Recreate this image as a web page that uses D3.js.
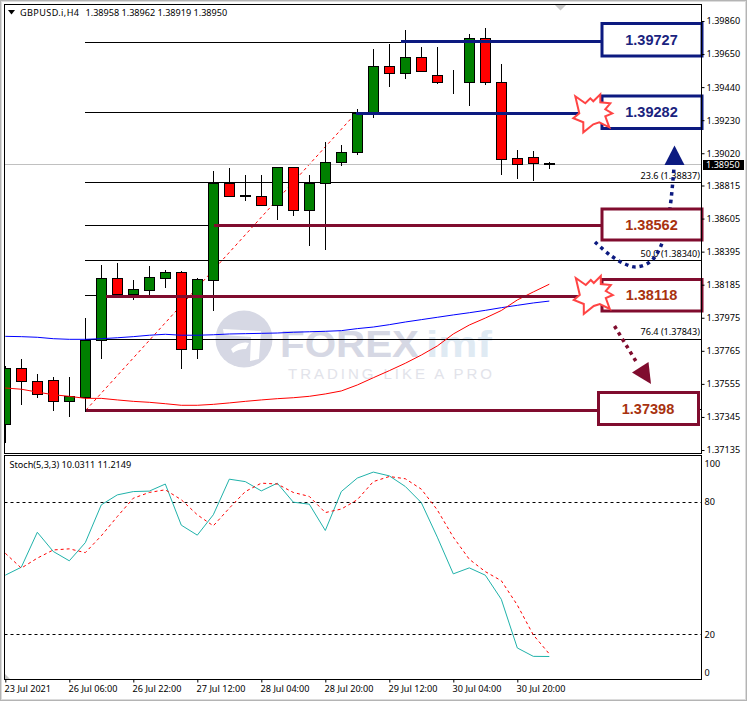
<!DOCTYPE html>
<html>
<head>
<meta charset="utf-8">
<style>
    html, body { margin: 0; padding: 0; background: #fff; }
    svg { display: block; }
    text { font-family: "Noto Sans", sans-serif; font-size: 9.1px; fill: #000; }
</style>
<script src="https://cdn.jsdelivr.net/npm/d3@7"></script>
</head>
<body>
<svg id="chart" width="749" height="702"></svg>
<script>
// GBPUSD H4 candles
var opens = [1.37298, 1.37654, 1.37571, 1.37578, 1.37442, 1.37474, 1.37832, 1.38226, 1.38122, 1.38147, 1.38229, 1.38264, 1.37775, 1.38217, 1.38833, 1.38752, 1.38746, 1.38687, 1.38931, 1.38661, 1.38829, 1.38962, 1.39024, 1.39274, 1.39572, 1.39528, 1.39629, 1.39515, 1.39471, 1.39471, 1.39750, 1.39471, 1.38988, 1.38994, 1.38958];
var highs = [1.37669, 1.37713, 1.37618, 1.37599, 1.37599, 1.37972, 1.38310, 1.38323, 1.38215, 1.38304, 1.38278, 1.38272, 1.38228, 1.38907, 1.38926, 1.38882, 1.38882, 1.38931, 1.38931, 1.38882, 1.39091, 1.39072, 1.39301, 1.39680, 1.39714, 1.39803, 1.39695, 1.39695, 1.39549, 1.39777, 1.39816, 1.39587, 1.39041, 1.39034, 1.38962];
var lows = [1.37181, 1.37421, 1.37467, 1.37383, 1.37347, 1.37378, 1.37713, 1.38122, 1.38088, 1.38118, 1.38166, 1.37650, 1.37713, 1.38020, 1.38744, 1.38719, 1.38687, 1.38596, 1.38623, 1.38433, 1.38407, 1.38941, 1.39009, 1.39246, 1.39443, 1.39492, 1.39541, 1.39462, 1.39398, 1.39320, 1.39454, 1.38884, 1.38856, 1.38846, 1.38919];
var closes = [1.37654, 1.37569, 1.37486, 1.37442, 1.37476, 1.37834, 1.38226, 1.38122, 1.38156, 1.38232, 1.38264, 1.37775, 1.38219, 1.38833, 1.38750, 1.38745, 1.38687, 1.38931, 1.38661, 1.38831, 1.38962, 1.39026, 1.39274, 1.39572, 1.39528, 1.39629, 1.39541, 1.39471, 1.39470, 1.39750, 1.39471, 1.38979, 1.38950, 1.38954, 1.38950];

// moving averages
var maBlue = [1.37857, 1.37855, 1.37851, 1.37842, 1.37838, 1.37838, 1.37842, 1.37848, 1.37855, 1.37864, 1.37870, 1.37864, 1.37864, 1.37867, 1.37872, 1.37874, 1.37876, 1.37878, 1.37883, 1.37886, 1.37889, 1.37893, 1.37906, 1.37916, 1.37931, 1.37948, 1.37963, 1.37978, 1.37993, 1.38007, 1.38022, 1.38039, 1.38054, 1.38069, 1.38081];
var maRed = [1.37529, 1.37521, 1.37503, 1.37486, 1.37476, 1.37463, 1.37463, 1.37453, 1.37444, 1.37438, 1.37429, 1.37419, 1.37419, 1.37425, 1.37434, 1.37444, 1.37453, 1.37461, 1.37467, 1.37476, 1.37491, 1.37510, 1.37548, 1.37594, 1.37639, 1.37686, 1.37738, 1.37796, 1.37872, 1.37929, 1.37973, 1.38021, 1.38088, 1.38139, 1.38188];

// stochastic
var stochMain = [46.8, 50.4, 66.2, 57.5, 53.3, 61.5, 78.6, 83.1, 84.6, 84.8, 88.0, 69.4, 64.9, 74.1, 90.2, 89.1, 84.9, 88.4, 79.8, 78.9, 67.0, 84.6, 90.7, 93.4, 91.7, 86.9, 79.6, 64.0, 47.4, 50.1, 46.8, 35.9, 13.9, 10.1, 10.03];
var stochSignal = [56.7, 50.0, 54.5, 58.2, 58.7, 57.0, 64.6, 73.3, 81.6, 84.2, 85.4, 80.9, 74.1, 69.1, 77.1, 84.6, 88.4, 88.0, 84.2, 82.4, 75.1, 76.7, 80.9, 89.1, 91.4, 90.4, 85.7, 76.3, 64.0, 54.0, 48.4, 44.3, 33.3, 19.8, 11.2];

// axes
var priceTicks = [1.39860, 1.39650, 1.39440, 1.39230, 1.39020, 1.38815, 1.38605, 1.38395, 1.38185, 1.37975, 1.37765, 1.37555, 1.37345, 1.37135];
var stochTicks = [100, 80, 20, 0];
var stochLevels = [80, 20];
var timeIndex = [0, 4, 8, 12, 16, 20, 24, 28, 32];
var timeLabels = ["23 Jul 2021", "26 Jul 06:00", "26 Jul 22:00", "27 Jul 12:00", "28 Jul 04:00", "28 Jul 20:00", "29 Jul 12:00", "30 Jul 04:00", "30 Jul 20:00"];

// fibonacci levels
var fibPrices = [1.39727, 1.39282, 1.38837, 1.38562, 1.38340, 1.38118, 1.37843, 1.37398];
var fibLabelled = [1.38837, 1.38340, 1.37843];
var fibNames = ["23.6", "50.0", "76.4"];

var lastPrice = 1.38950;

var svg = d3.select("#chart");

var panelLeft = 4.5, panelRight = 701.5, mainTop = 4.5, mainBottom = 453.5, stochTop = 455.5, stochBottom = 679.5;

var x = d3.scaleLinear().domain([0, 34]).range([5.3, 549.3]);
var y = d3.scaleLinear().domain([1.39860, 1.37135]).range([21, 450]);
var yStoch = d3.scaleLinear().domain([0, 100]).range([678.7, 457.5]);

var crisp = v => Math.round(v) + 0.5;

var navy = "#0c1a80", maroon = "#800c2e";

// window frame
svg.append("rect").attr("x", 0.5).attr("y", 0.5).attr("width", 746).attr("height", 700)
    .attr("fill", "#fff").attr("stroke", "#b4b4b4");
svg.append("rect").attr("x", 1.5).attr("y", 1.5).attr("width", 744).attr("height", 698)
    .attr("fill", "none").attr("stroke", "#dcdcdc");

svg.append("clipPath").attr("id", "main-clip").append("rect")
    .attr("x", panelLeft).attr("y", mainTop).attr("width", panelRight - panelLeft).attr("height", mainBottom - mainTop);

// watermark
var wm = svg.append("g");
wm.append("circle").attr("cx", 244).attr("cy", 339).attr("r", 28.5).attr("fill", "#d6d8e4");
wm.append("path").attr("d", "M223 329 L261 331 L259 359 L250 361 L251 337 L224 335 Z").attr("fill", "#fff");
wm.append("path").attr("d", "M231 349 Q240 341 249 343 L246 349 Q238 349 233 353 Z").attr("fill", "#fff");
wm.append("text").attr("x", 280).attr("y", 357).text("FOREX")
    .style("font-family", "Liberation Sans").style("font-weight", "bold").style("font-size", "37px").style("fill", "#d6d8e4")
    .attr("textLength", 139).attr("lengthAdjust", "spacingAndGlyphs");
wm.append("text").attr("x", 426).attr("y", 357).text("imf")
    .style("font-family", "Liberation Sans").style("font-weight", "bold").style("font-size", "37px").style("fill", "#dfeaf3")
    .attr("textLength", 66).attr("lengthAdjust", "spacingAndGlyphs");
wm.append("text").attr("x", 288).attr("y", 378.5).text("TRADING LIKE A PRO")
    .style("font-family", "Liberation Sans").style("font-size", "15px").style("fill", "#e2e3ea")
    .attr("textLength", 204);

// fibonacci trend line and levels
svg.append("line").attr("x1", 86).attr("y1", 410).attr("x2", 357).attr("y2", 112)
    .attr("stroke", "#f00").attr("stroke-dasharray", "3 3");
svg.selectAll(".fib").data(fibPrices).enter().append("line")
    .attr("class", "fib")
    .attr("x1", 85).attr("x2", panelRight)
    .attr("y1", d => crisp(y(d))).attr("y2", d => crisp(y(d)))
    .attr("stroke", "#000");
svg.selectAll(".fib-label").data(fibLabelled).enter().append("text")
    .attr("class", "fib-label")
    .attr("x", 700).attr("y", d => y(d) - 3.5)
    .attr("text-anchor", "end")
    .text((d, i) => fibNames[i] + " (" + d.toFixed(5) + ")");

// current price line
svg.append("line").attr("x1", panelLeft).attr("x2", panelRight)
    .attr("y1", crisp(y(lastPrice))).attr("y2", crisp(y(lastPrice)))
    .attr("stroke", "#c0c0c0");

// candles
var candles = svg.append("g").attr("clip-path", "url(#main-clip)")
    .selectAll("g").data(opens).enter().append("g");
candles.append("line")
    .attr("x1", (d, i) => Math.round(x(i)) + 0.5).attr("x2", (d, i) => Math.round(x(i)) + 0.5)
    .attr("y1", (d, i) => Math.round(y(highs[i]))).attr("y2", (d, i) => Math.round(y(lows[i])))
    .attr("stroke", "#000");
candles.append("rect")
    .attr("x", (d, i) => Math.round(x(i)) - 4.5)
    .attr("width", 10)
    .attr("y", (d, i) => crisp(y(Math.max(d, closes[i]))))
    .attr("height", (d, i) => Math.round(Math.abs(y(d) - y(closes[i]))))
    .attr("fill", (d, i) => closes[i] >= d ? "#008000" : "#f00")
    .attr("stroke", "#000");

// moving averages
var priceLine = d3.line().x((d, i) => x(i)).y(d => y(d));
svg.append("path").datum(maBlue).attr("d", priceLine).attr("fill", "none").attr("stroke", "#00f");
svg.append("path").datum(maRed).attr("d", priceLine).attr("fill", "none").attr("stroke", "#f00");

// dotted arrows go under the boxes
var dotted = d3.line().curve(d3.curveCatmullRom);
svg.append("path")
    .attr("d", dotted([[595, 242], [610, 255], [625, 264], [636, 267], [650, 262], [660, 248], [668, 220], [671, 200], [674, 168]]))
    .attr("fill", "none").attr("stroke", navy).attr("stroke-width", 3.5).attr("stroke-dasharray", "3.5 4");
svg.append("path").attr("d", "M674.5 145.5 L684.5 165 L664.5 165 Z").attr("fill", navy);
svg.append("path")
    .attr("d", dotted([[614.5, 326], [637, 363]]))
    .attr("fill", "none").attr("stroke", maroon).attr("stroke-width", 3.5).attr("stroke-dasharray", "3.5 4");
svg.append("path").attr("d", "M648.5 362 L632 372.5 L651 384 Z").attr("fill", maroon);

// thick support / resistance lines and their boxes
var zones = [
    { x1: 401, x2: 602, ly: 41.5, bx: 602, by: 23.5, bh: 32.5, c: navy, tc: "#1a237e", label: "1.39727" },
    { x1: 356, x2: 602, ly: 113.5, bx: 602, by: 96, bh: 32.5, c: navy, tc: "#1a237e", label: "1.39282" },
    { x1: 214, x2: 602, ly: 225.5, bx: 602, by: 209, bh: 31, c: maroon, tc: "#a8320f", label: "1.38562" },
    { x1: 106, x2: 602, ly: 296.5, bx: 602, by: 279.5, bh: 31.5, c: maroon, tc: "#a8320f", label: "1.38118" },
    { x1: 86, x2: 598, ly: 410.5, bx: 598.5, by: 392.5, bh: 32, c: maroon, tc: "#a8320f", label: "1.37398" }
];
var zone = svg.selectAll(".zone").data(zones).enter().append("g").attr("class", "zone");
zone.append("line")
    .attr("x1", d => d.x1).attr("x2", d => d.x2).attr("y1", d => d.ly).attr("y2", d => d.ly)
    .attr("stroke", d => d.c).attr("stroke-width", 3);
zone.append("rect")
    .attr("x", d => d.bx).attr("y", d => d.by).attr("width", 100).attr("height", d => d.bh)
    .attr("fill", "#fff").attr("stroke", d => d.c).attr("stroke-width", 3);
zone.append("text")
    .attr("x", d => d.bx + 49.5).attr("y", d => d.by + d.bh / 2 + 5)
    .attr("text-anchor", "middle")
    .style("font-family", "Liberation Sans").style("font-weight", "bold").style("font-size", "14.5px")
    .style("fill", d => d.tc)
    .text(d => d.label);

// breakout stars
var starShape = [[-18, -18], [-8, -11], [-3, -16], [0, -13], [7, -20], [7, -12], [17, -11], [12, -5], [19, -1], [12, 2], [16, 13], [6, 8], [0, 10], [-10, 18], [-10, 8], [-20, 4], [-14, -1]];
svg.selectAll(".star").data([[593.3, 114.3], [593.8, 296]]).enter().append("path")
    .attr("class", "star")
    .attr("transform", d => "translate(" + d[0] + "," + d[1] + ")")
    .attr("d", d3.line().curve(d3.curveLinearClosed)(starShape))
    .attr("fill", "#fff").attr("stroke", "#ff4444").attr("stroke-width", 2);

// main panel frame and price axis
svg.append("rect").attr("x", panelLeft).attr("y", mainTop).attr("width", panelRight - panelLeft).attr("height", mainBottom - mainTop)
    .attr("fill", "none").attr("stroke", "#000");
var priceAxis = svg.append("g")
    .attr("transform", "translate(" + panelRight + ",0)")
    .call(d3.axisRight(y).tickValues(priceTicks).tickSize(3).tickPadding(2).tickFormat(d => d.toFixed(5)));
priceAxis.select(".domain").remove();
priceAxis.selectAll("text").style("font-size", "9.1px");

// current price tag
svg.append("rect").attr("x", 703).attr("y", 160).attr("width", 41).attr("height", 10).attr("fill", "#000");
svg.append("text").attr("x", 706).attr("y", 168.3).style("fill", "#fff").text(lastPrice.toFixed(5));

// header
svg.append("path").attr("d", "M8 10 L15 10 L11.5 14.5 Z").attr("fill", "#000");
svg.append("text").attr("x", 20).attr("y", 16).attr("textLength", 59).text("GBPUSD.i,H4");
svg.append("text").attr("x", 85.5).attr("y", 16).text("1.38958 1.38962 1.38919 1.38950");
svg.append("path").attr("d", "M555 5 L566 5 L560.5 10.5 Z").attr("fill", "#c8c8c8");

// stochastic panel
svg.append("rect").attr("x", panelLeft).attr("y", stochTop).attr("width", panelRight - panelLeft).attr("height", stochBottom - stochTop)
    .attr("fill", "#fff").attr("stroke", "#000");
svg.selectAll(".level").data(stochLevels).enter().append("line")
    .attr("class", "level")
    .attr("x1", panelLeft).attr("x2", panelRight)
    .attr("y1", d => crisp(yStoch(d))).attr("y2", d => crisp(yStoch(d)))
    .attr("stroke", "#000").attr("stroke-dasharray", "3 3");

var stochLine = d3.line().x((d, i) => x(i)).y(d => yStoch(d));
svg.append("path").datum(stochMain).attr("d", stochLine).attr("fill", "none").attr("stroke", "#20b2aa");
svg.append("path").datum(stochSignal).attr("d", stochLine).attr("fill", "none").attr("stroke", "#f00").attr("stroke-dasharray", "3 3");

svg.append("text").attr("x", 9.5).attr("y", 468).text("Stoch(5,3,3) 10.0311 11.2149");

var stochAxis = svg.append("g")
    .attr("transform", "translate(" + panelRight + ",0)")
    .call(d3.axisRight(yStoch).tickValues(stochTicks).tickSize(0).tickPadding(3));
stochAxis.select(".domain").remove();
// 100 and 0 sit inside the panel
stochAxis.selectAll("text")
    .attr("dy", d => d === 100 ? "1em" : d === 0 ? "-0.4em" : "0.32em")
    .style("font-size", "9.1px");

svg.append("path").attr("d", "M5 674 L10 679 L5 679 Z").attr("fill", "#c8c8c8");

// time axis
var timeAxis = svg.append("g")
    .attr("transform", "translate(0," + stochBottom + ")")
    .call(d3.axisBottom(x).tickValues(timeIndex).tickSize(3).tickPadding(3).tickFormat((d, i) => timeLabels[i]));
timeAxis.select(".domain").remove();
timeAxis.selectAll("text").attr("text-anchor", "start").attr("dx", "-1.2").style("font-size", "9.1px");
</script>
</body>
</html>
